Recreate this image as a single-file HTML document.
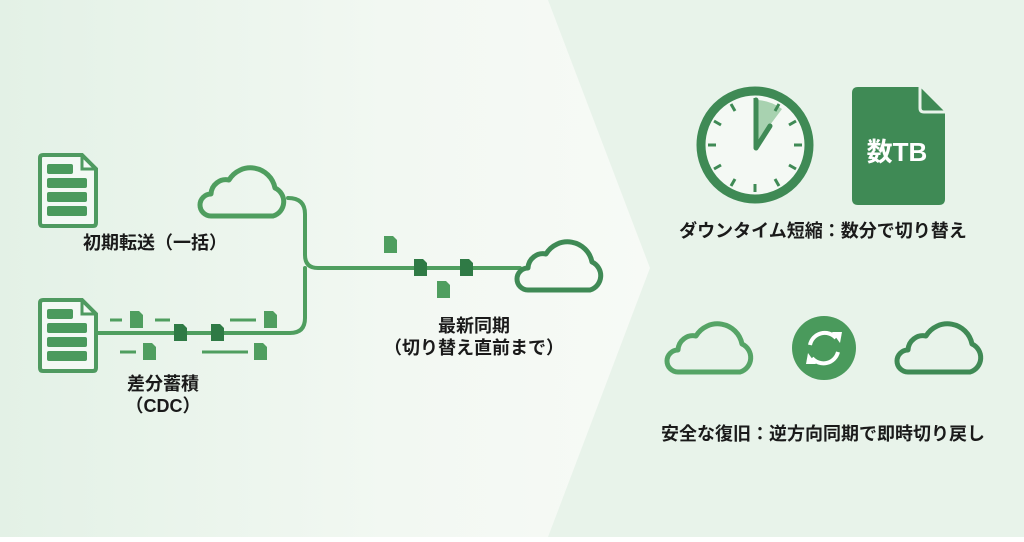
<!DOCTYPE html>
<html><head><meta charset="utf-8"><style>
html,body{margin:0;padding:0;}
body{width:1024px;height:537px;overflow:hidden;}
text{font-family:"Liberation Sans","Noto Sans CJK JP",sans-serif;font-weight:bold;fill:#1a1a1a;}
</style></head><body>
<svg width="1024" height="537" viewBox="0 0 1024 537" xmlns="http://www.w3.org/2000/svg">
<defs>
<linearGradient id="lg" x1="0" x2="1" y1="0" y2="0">
<stop offset="0" stop-color="#e3f1e6"/><stop offset="0.6" stop-color="#f2f8f2"/><stop offset="1" stop-color="#f7faf6"/>
</linearGradient>
<path id="cloud" d="M16,54 H78 A15,15 0 0 0 80,26 A25,25 0 0 0 34,18 A15,15 0 0 0 16,32 A11,11 0 0 0 16,54 Z" fill="none" stroke-width="5" stroke-linejoin="round"/>
<path id="sd" d="M0,0 H9 L13,4 V17 H0 Z"/>
<g id="bigdoc">
<path d="M3,0 H42 L56,14 V68 Q56,71 53,71 H3 Q0,71 0,68 V3 Q0,0 3,0 Z" fill="#f3f9f4" stroke="#4f9a60" stroke-width="4"/>
<path d="M42,0 V14 H56" fill="none" stroke="#4f9a60" stroke-width="3"/>
<rect x="7" y="9" width="26" height="10" rx="2" fill="#4b9a5d"/>
<rect x="7" y="23" width="40" height="10" rx="2" fill="#4b9a5d"/>
<rect x="7" y="37" width="40" height="10" rx="2" fill="#4b9a5d"/>
<rect x="7" y="51" width="40" height="10" rx="2" fill="#4b9a5d"/>
</g>
</defs>
<rect width="1024" height="537" fill="#e8f3ea"/>
<polygon points="0,0 548,0 650,268 548,537 0,537" fill="url(#lg)"/>

<use href="#bigdoc" x="40" y="155"/>
<use href="#bigdoc" x="40" y="300"/>
<text x="155" y="249" font-size="18" text-anchor="middle">初期転送（一括）</text>
<text x="163" y="390" font-size="18" text-anchor="middle">差分蓄積</text>
<text x="163" y="412" font-size="18" text-anchor="middle">（CDC）</text>

<g fill="none" stroke="#4f9e5f" stroke-width="4" stroke-linecap="round">
<path d="M288,198 Q305,198 305,214 V255 Q305,268 318,268 H520"/>
<path d="M305,268 Q305,281 305,290 V318 Q305,333 290,333 H97"/>
</g>
<use href="#cloud" x="195" y="162" stroke="#4f9e5f"/>
<use href="#cloud" x="512" y="236" stroke="#3f8a55"/>

<g fill="#4f9e5f">
<use href="#sd" x="130" y="311"/><use href="#sd" x="264" y="311"/>
<use href="#sd" x="143" y="343"/><use href="#sd" x="254" y="343"/>
<use href="#sd" x="384" y="236"/><use href="#sd" x="437" y="281"/>
</g>
<g fill="#2f7a45">
<use href="#sd" x="174" y="324"/><use href="#sd" x="211" y="324"/>
<use href="#sd" x="414" y="259"/><use href="#sd" x="460" y="259"/>
</g>
<g stroke="#4f9e5f" stroke-width="3">
<line x1="110" y1="320" x2="122" y2="320"/><line x1="155" y1="320" x2="170" y2="320"/>
<line x1="230" y1="320" x2="256" y2="320"/>
<line x1="120" y1="352" x2="136" y2="352"/><line x1="202" y1="352" x2="248" y2="352"/>
</g>
<text x="474" y="332" font-size="18" text-anchor="middle">最新同期</text>
<text x="474" y="354" font-size="18" text-anchor="middle">（切り替え直前まで）</text>

<circle cx="755" cy="145" r="54" fill="#f4f9f4" stroke="#3f8a55" stroke-width="9"/>
<path d="M755,145 L755,100 A45,45 0 0 1 782,109 Z" fill="#a8d2b0"/>
<g stroke="#3f8a55" stroke-width="3">
<line x1="755" y1="98" x2="755" y2="106"/><line x1="755" y1="184" x2="755" y2="192"/>
<line x1="708" y1="145" x2="716" y2="145"/><line x1="794" y1="145" x2="802" y2="145"/>
<line x1="731" y1="104" x2="735" y2="111"/><line x1="779" y1="104" x2="775" y2="111"/>
<line x1="714" y1="121" x2="721" y2="125"/><line x1="796" y1="121" x2="789" y2="125"/>
<line x1="714" y1="169" x2="721" y2="165"/><line x1="796" y1="169" x2="789" y2="165"/>
<line x1="731" y1="186" x2="735" y2="179"/><line x1="779" y1="186" x2="775" y2="179"/>
</g>
<path d="M756,148 L756,100 M756,148 L770,126" stroke="#3f8a55" stroke-width="5" stroke-linecap="round"/>

<path d="M858,87 H920 L945,112 V199 Q945,205 939,205 H858 Q852,205 852,199 V93 Q852,87 858,87 Z" fill="#3f8a55"/>
<path d="M920,87 V108 Q920,112 924,112 H945" fill="none" stroke="#e8f3ea" stroke-width="3"/>
<text x="897" y="161" font-size="26" text-anchor="middle" style="fill:#fff">数TB</text>
<text x="823" y="237" font-size="18" text-anchor="middle">ダウンタイム短縮：数分で切り替え</text>

<use href="#cloud" x="662" y="318" stroke="#55a466"/>
<use href="#cloud" x="892" y="318" stroke="#3f8a55"/>
<circle cx="824" cy="348" r="32" fill="#4a9a5c"/>
<g fill="none" stroke="#fff" stroke-width="4">
<path d="M810,345 A15,15 0 0 1 836,338"/>
<path d="M838,352 A15,15 0 0 1 812,358"/>
</g>
<polygon points="832,332 842,332 840,343" fill="#fff"/>
<polygon points="816,364 806,364 808,353" fill="#fff"/>
<text x="823" y="440" font-size="18" text-anchor="middle">安全な復旧：逆方向同期で即時切り戻し</text>
</svg>
</body></html>
